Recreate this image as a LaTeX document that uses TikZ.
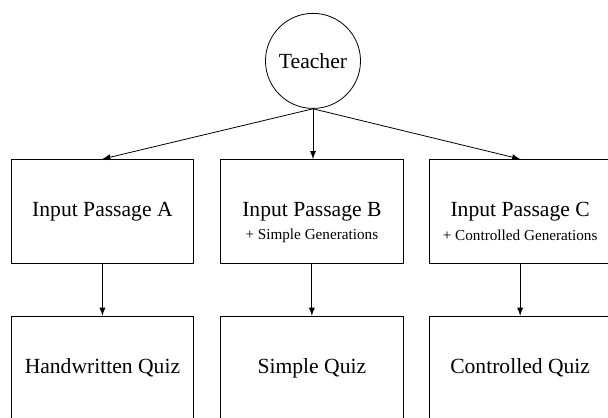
\documentclass[tikz,border=0pt]{standalone}
\usepackage{fontspec}
\setmainfont{Liberation Serif}
\newfontfamily\tnr{Liberation Serif}
\usepackage{tikz}

\begin{document}
\begin{tikzpicture}[
% Estilo del circulo
circ/.style={circle, inner sep=0pt, minimum size=1.67cm, draw=black, font=\tnr\fontsize{10.8}{12}\selectfont},
% Estilo de las cajas
caja/.style={rectangle, inner sep=0pt, minimum width=3.2cm, minimum height=1.83cm, draw=black, font=\tnr\fontsize{10.8}{12}\selectfont},
% Estilo de las notas
nota/.style={inner sep=0pt, font=\tnr\fontsize{7.6}{9}\selectfont},
% Estilo de las flechas
flecha/.style={-latex, color=black},
]
\useasboundingbox (0,0) rectangle (10.684,-7.328);

% Nodos
\node (T) at (5.50,-1.07) [circ]{Teacher};
\node (A) at (1.80,-3.717) [caja]{Input Passage A};
\node (B) at (5.48,-3.717) [caja]{Input Passage B};
\node (C) at (9.14,-3.717) [caja]{Input Passage C};
\node (Bn) at ([yshift=-0.42cm]B.center) [nota]{+ Simple Generations};
\node (Cn) at ([yshift=-0.42cm]C.center) [nota]{+ Controlled Generations};
\node (QA) at (1.80,-6.47) [caja]{Handwritten Quiz};
\node (QB) at (5.48,-6.47) [caja]{Simple Quiz};
\node (QC) at (9.14,-6.47) [caja]{Controlled Quiz};

% Flechas
\draw[flecha] (T.south) -- (A.north);
\draw[flecha] (T.south) -- (T.south |- B.north);
\draw[flecha] (T.south) -- (C.north);
\draw[flecha] (A) -- (QA);
\draw[flecha] (B) -- (QB);
\draw[flecha] (C) -- (QC);
\end{tikzpicture}
\end{document}
